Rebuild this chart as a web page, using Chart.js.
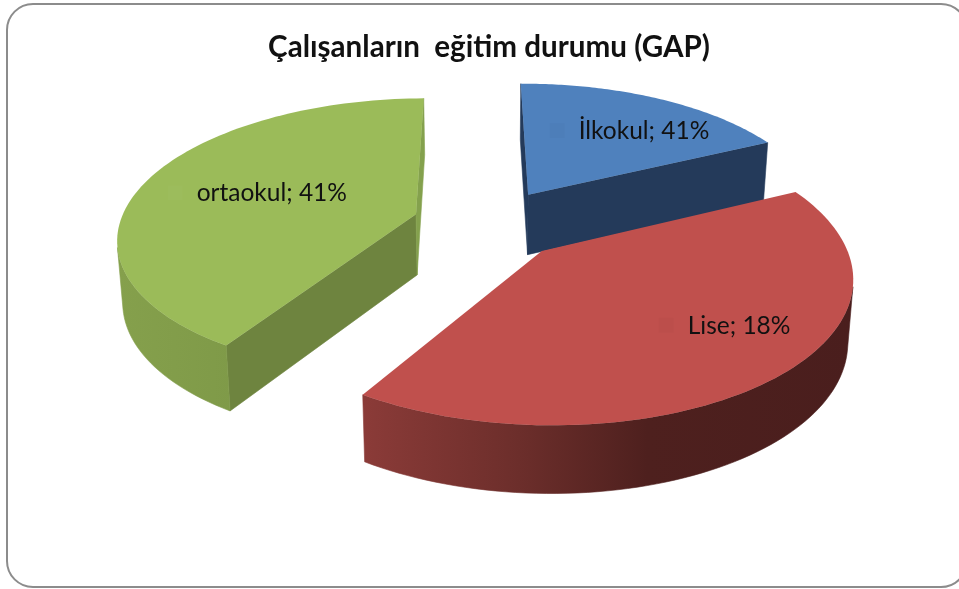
<!DOCTYPE html>
<html>
<head>
<meta charset="utf-8">
<style>
html,body{margin:0;padding:0;background:#fff;overflow:hidden}
canvas{display:block;filter:blur(.45px)}
</style>
<script src="https://cdn.jsdelivr.net/npm/chart.js@4"></script>
</head>
<body>
<canvas id="c" width="959" height="589"></canvas>
<script>
const categories = ['İlkokul', 'Lise', 'ortaokul'];
const sliceValues = [18, 41, 41];
const labelPercents = [41, 18, 41];
const titleText = 'Çalışanların  eğitim durumu (GAP)';
const topColors = ['#4F81BD', '#C0504D', '#9BBB59'];
const startWallColors = ['#243A5A', '#4E201E', '#6E843F'];
const endWallColors = ['#243A5A', '#8A3A38', '#84A14D'];
const rimStops = [
  [[0, '#243A5A'], [1, '#243A5A']],
  [[0, '#8B3B38'], [0.32, '#6C2E2B'], [0.58, '#4E201E'], [1, '#4A1E1D']],
  [[0, '#85A04C'], [0.5, '#7D9847'], [1, '#7A9544']]
];
const labelRadius = [0.70, 0.75, 0.535];
const labelTurnDeg = [8, -9, 1.7];

const view = { horizon: 865, distance: 1830, depthBase: 30, depthScale: 31, converge: 0.985, widen: 1.022 };

function project(cx, cy, U, V, low) {
  const s = 1 / (1 - V / view.distance);
  return {
    x: cx + U * view.widen * s * (low ? view.converge : 1),
    y: cy - view.horizon + view.horizon * s + (low ? view.depthBase + view.depthScale * s : 0)
  };
}
function sliceGeometry(arc) {
  const mid = (arc.startAngle + arc.endAngle) / 2;
  const off = arc.options.offset;
  const ox = Math.cos(mid) * off, oy = Math.sin(mid) * off;
  const rim = [];
  const n = 90;
  for (let k = 0; k <= n; k++) {
    const a = arc.startAngle + (arc.endAngle - arc.startAngle) * k / n;
    rim.push([ox + arc.outerRadius * Math.cos(a), oy + arc.outerRadius * Math.sin(a)]);
  }
  return { mid, ox, oy, rim };
}
function quadPoints(arc, a, b) {
  return [
    project(arc.x, arc.y, a[0], a[1], false), project(arc.x, arc.y, b[0], b[1], false),
    project(arc.x, arc.y, b[0], b[1], true), project(arc.x, arc.y, a[0], a[1], true)
  ];
}
function facesViewer(pts) {
  let area = 0;
  pts.forEach((t, i) => { const u = pts[(i + 1) % pts.length]; area += t.x * u.y - u.x * t.y; });
  return area < 0;
}
function fillPolygon(ctx, pts, fill) {
  ctx.beginPath();
  pts.forEach((t, i) => i ? ctx.lineTo(t.x, t.y) : ctx.moveTo(t.x, t.y));
  ctx.closePath();
  ctx.fillStyle = fill; ctx.strokeStyle = fill; ctx.lineWidth = 0.6;
  ctx.fill(); ctx.stroke();
}
function drawWall(ctx, arc, a, b, fill) {
  const pts = quadPoints(arc, a, b);
  if (facesViewer(pts)) fillPolygon(ctx, pts, fill);
}
function drawRim(ctx, arc, rim, fill) {
  let tops = [], lows = [];
  const flush = () => {
    if (tops.length) fillPolygon(ctx, tops.concat(lows.reverse()), fill);
    tops = []; lows = [];
  };
  for (let k = 0; k < rim.length - 1; k++) {
    const pts = quadPoints(arc, rim[k], rim[k + 1]);
    if (facesViewer(pts)) {
      if (!tops.length) { tops.push(pts[0]); lows.push(pts[3]); }
      tops.push(pts[1]); lows.push(pts[2]);
    } else flush();
  }
  flush();
}
const pie3d = {
  id: 'pie3d',
  beforeDraw(chart) {
    const ctx = chart.ctx;
    ctx.save();
    ctx.fillStyle = '#fff';
    ctx.fillRect(0, 0, chart.width, chart.height);
    ctx.beginPath();
    ctx.roundRect(7, 4, 960, 583, 26);
    ctx.strokeStyle = '#8C8C8C';
    ctx.lineWidth = 2;
    ctx.stroke();
    ctx.restore();
  },
  beforeDatasetsDraw(chart) {
    const ctx = chart.ctx;
    const arcs = chart.getDatasetMeta(0).data;
    const geos = arcs.map(sliceGeometry);
    const order = arcs.map((_, i) => i).sort((a, b) => geos[a].oy - geos[b].oy);
    ctx.save();
    order.forEach(i => {
      const arc = arcs[i], g = geos[i];
      const apex = [g.ox, g.oy];
      const xs = g.rim.map(r => project(arc.x, arc.y, r[0], r[1], false).x);
      const x0 = Math.min(...xs), x1 = Math.max(...xs);
      const grad = ctx.createLinearGradient(x0, 0, x1, 0);
      rimStops[i].forEach(s => grad.addColorStop(s[0], s[1]));
      drawWall(ctx, arc, apex, g.rim[0], startWallColors[i]);
      drawWall(ctx, arc, g.rim[g.rim.length - 1], apex, endWallColors[i]);
      drawRim(ctx, arc, g.rim, grad);
      ctx.beginPath();
      const a0 = project(arc.x, arc.y, apex[0], apex[1], false);
      ctx.moveTo(a0.x, a0.y);
      g.rim.forEach(r => { const t = project(arc.x, arc.y, r[0], r[1], false); ctx.lineTo(t.x, t.y); });
      ctx.closePath();
      ctx.fillStyle = arc.options.backgroundColor;
      ctx.fill();
    });
    order.forEach(i => {
      const arc = arcs[i], g = geos[i];
      const a = g.mid + labelTurnDeg[i] * Math.PI / 180;
      const r = arc.outerRadius * labelRadius[i];
      const t = project(arc.x, arc.y, g.ox + r * Math.cos(a), g.oy + r * Math.sin(a), false);
      const text = categories[i] + '; ' + labelPercents[i] + '%';
      ctx.font = '24.5px Lato';
      ctx.textAlign = 'center';
      ctx.textBaseline = 'middle';
      const w = ctx.measureText(text).width;
      ctx.globalAlpha = 0.018;
      ctx.fillStyle = i === 2 ? '#FFFFFF' : '#000000';
      ctx.fillRect(t.x - w / 2 - 29, t.y - 8, 15, 15);
      ctx.globalAlpha = 1;
      ctx.fillStyle = '#111';
      ctx.fillText(text, t.x, t.y);
    });
    ctx.restore();
    return false;
  }
};
new Chart(document.getElementById('c'), {
  type: 'pie',
  data: {
    labels: categories,
    datasets: [{ data: sliceValues, backgroundColor: topColors, borderWidth: 0, offset: 75 }]
  },
  options: {
    responsive: false,
    animation: false,
    rotation: -0.5,
    radius: 290,
    layout: { padding: { left: 19, right: 0, top: 0, bottom: 216 } },
    plugins: {
      legend: { display: false },
      tooltip: { enabled: false },
      title: {
        display: true,
        text: titleText,
        color: '#111',
        font: { family: 'Lato', size: 29.6, weight: 'bold' },
        padding: { top: 30, bottom: 9 }
      }
    }
  },
  plugins: [pie3d]
});
</script>
</body>
</html>
